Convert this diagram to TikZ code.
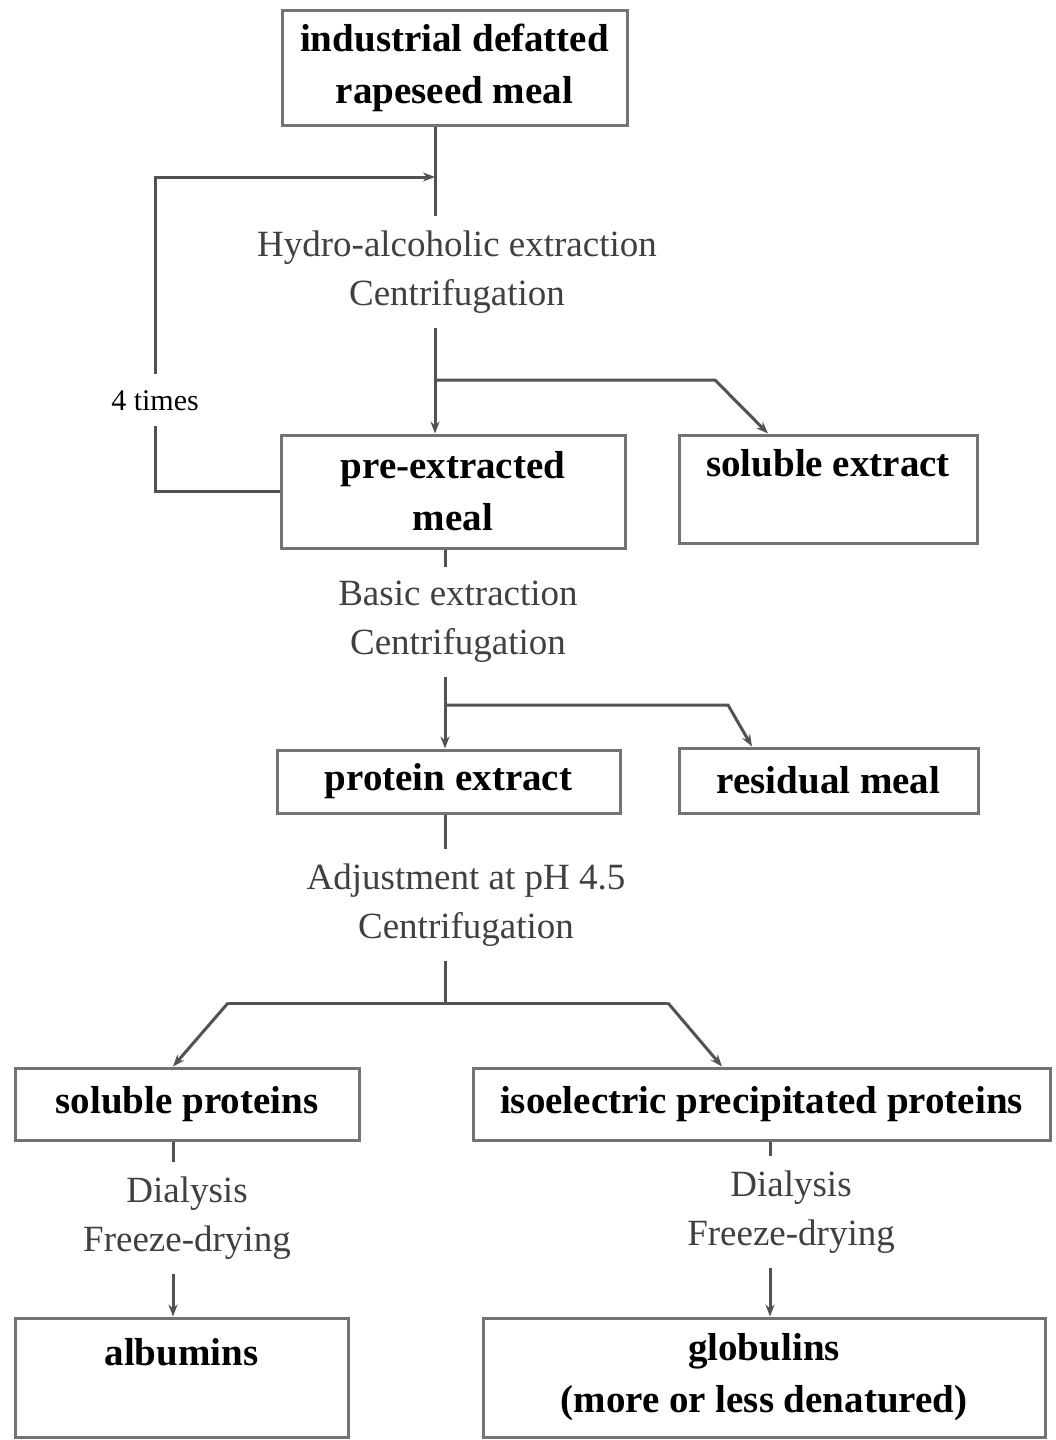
\documentclass[tikz,border=0pt]{standalone}
\usepackage{fontspec}
\setmainfont{Liberation Serif}
\usetikzlibrary{arrows.meta}
\begin{document}
\begin{tikzpicture}[x=1pt,y=-1pt,
  box/.style={draw=black!55, line width=3pt, rectangle, align=center, inner sep=0pt,
    text=black, font=\fontsize{39}{52}\selectfont\bfseries},
  proc/.style={align=center, inner xsep=0pt, inner ysep=14pt, text=black!75,
    font=\fontsize{37}{49}\selectfont},
  conn/.style={draw=black!68, line width=3pt},
  arr/.style={conn, -{Stealth[length=12pt,width=9pt]}},
]
\useasboundingbox[fill=white] (0,0) rectangle (1055,1440);

% boxes
\node[box, minimum width=345pt, minimum height=115pt] (top) at (454.5,67.5) {industrial defatted\\rapeseed meal};
\node[box, minimum width=344pt, minimum height=113pt] (pre) at (453,491.5) {pre-extracted\\meal};
\node[box, minimum width=298pt, minimum height=108pt] (solext) at (828,489) {soluble extract\\\mbox{}};
\node[box, minimum width=343pt, minimum height=63pt] (prot) at (448.5,781.5) {protein extract};
\node[box, minimum width=299pt, minimum height=65pt] (resid) at (828.5,780.5) {residual meal};
\node[box, minimum width=344pt, minimum height=72pt] (solprot) at (187,1104) {soluble proteins};
\node[box, minimum width=577pt, minimum height=72pt] (iso) at (761.5,1104) {isoelectric precipitated proteins};
\node[box, minimum width=333pt, minimum height=119pt] (alb) at (181.5,1377.5) {albumins\\\mbox{}};
\node[box, minimum width=562pt, minimum height=119pt] (glob) at (764,1377.5) {globulins\\(more or less denatured)};

% process texts
\node[proc] (t1) at (457,272) {Hydro-alcoholic extraction\\Centrifugation};
\node[proc] (t2) at (458,622) {Basic extraction\\Centrifugation};
\node[proc] (t3) at (466,905) {Adjustment at pH 4.5\\Centrifugation};
\node[proc] (t4) at (187,1218) {Dialysis\\Freeze-drying};
\node[proc] (t5) at (791,1212) {Dialysis\\Freeze-drying};

% axes and corner coordinates
\coordinate (ax1) at (435,0);
\coordinate (ax2) at (445,0);
\coordinate (ax3) at (173,0);
\coordinate (ax4) at (770,0);
\coordinate (b1) at (435,380);
\coordinate (b1k) at (715,380);
\coordinate (b2) at (445,705);
\coordinate (b2k) at (728,705);
\coordinate (h0) at (445,1003);
\coordinate (hl) at (228,1003);
\coordinate (hr) at (668,1003);
\coordinate (loopc) at (155,177);
\coordinate (loopend) at (435,177);

% top -> pre-extracted meal
\draw[conn] (top.south -| ax1) -- (t1.north -| ax1);
\draw[arr] (t1.south -| ax1) -- (pre.north -| ax1);
\draw[arr] (b1) -- (b1k) -- ([xshift=-60pt]solext.north);
% 4 times loop
\draw[arr] (pre.west) -| node[pos=0.645, fill=white, inner xsep=2pt, inner ysep=16pt,
   text=black, font=\fontsize{30}{36}\selectfont] {4 times} (loopc) -- (loopend);

% pre-extracted -> protein extract
\draw[conn] (pre.south -| ax2) -- (t2.north -| ax2);
\draw[arr] (t2.south -| ax2) -- (prot.north -| ax2);
\draw[arr] (b2) -- (b2k) -- ([xshift=-76.5pt]resid.north);

% protein extract -> split
\draw[conn] (prot.south -| ax2) -- (t3.north -| ax2);
\draw[conn] (t3.south -| ax2) -- (h0);
\draw[conn] (hl) -- (hr);
\draw[arr] (hl) -- (solprot.north -| ax3);
\draw[arr] (hr) -- ([xshift=-39.5pt]iso.north);

% final steps
\draw[conn] (solprot.south -| ax3) -- (t4.north -| ax3);
\draw[arr] (t4.south -| ax3) -- (alb.north -| ax3);
\draw[conn] (iso.south -| ax4) -- (t5.north -| ax4);
\draw[arr] (t5.south -| ax4) -- (glob.north -| ax4);
\end{tikzpicture}
\end{document}
